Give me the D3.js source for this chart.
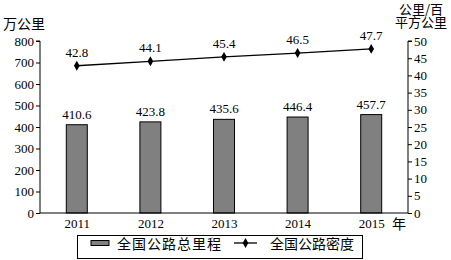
<!DOCTYPE html>
<html>
<head>
<meta charset="utf-8">
<script src="https://cdn.jsdelivr.net/npm/d3@7"></script>
<style>
  html, body { margin: 0; padding: 0; background: #fff; }
  svg { display: block; }
</style>
</head>
<body>
<svg id="chart" width="451" height="260"></svg>
<script>
// Years along the x axis
const years = ["2011", "2012", "2013", "2014", "2015"];
// Total highway length (10k km)
const totalLength = [410.6, 423.8, 435.6, 446.4, 457.7];
// Highway density (km per 100 km²)
const density = [42.8, 44.1, 45.4, 46.5, 47.7];
// Axis ticks
const leftTicks = [0, 100, 200, 300, 400, 500, 600, 700, 800];
const rightTicks = [0, 5, 10, 15, 20, 25, 30, 35, 40, 45, 50];

const NUM_FONT = '"Liberation Serif", "DejaVu Serif", serif';
const CJK_FONT = '"Noto Sans CJK SC", sans-serif';

const svg = d3.select("#chart");
const plotLeft = 40, plotRight = 408, plotTop = 41, plotBottom = 213;

const xc = d3.scalePoint().domain(years).range([plotLeft, plotRight]).padding(0.5);
const yL = d3.scaleLinear().domain([0, 800]).range([plotBottom, plotTop]);
const yR = d3.scaleLinear().domain([0, 50]).range([plotBottom, plotTop]);

function numText(sel) {
  sel.style("font-family", NUM_FONT).style("font-size", "13px").attr("fill", "#000");
}

// Bars
svg.append("g").selectAll("rect").data(years).join("rect")
  .attr("x", (d) => xc(d) - 10.5)
  .attr("y", (d, i) => yL(totalLength[i]))
  .attr("width", 21)
  .attr("height", (d, i) => plotBottom - yL(totalLength[i]))
  .attr("fill", "#808080")
  .attr("stroke", "#000")
  .attr("stroke-width", 1);

// Bar value labels
svg.append("g").selectAll("text").data(years).join("text")
  .call(numText)
  .attr("x", (d) => xc(d))
  .attr("y", (d, i) => yL(totalLength[i]) - 6)
  .attr("text-anchor", "middle")
  .text((d, i) => totalLength[i].toFixed(1));

// Left axis
const gL = svg.append("g").attr("transform", `translate(${plotLeft},0)`)
  .call(d3.axisLeft(yL).tickValues(leftTicks).tickSize(4).tickPadding(2));
gL.selectAll("text").call(numText);
gL.select(".domain").attr("d", `M-4,${plotTop}H0V${plotBottom}`);

// Right axis
const gR = svg.append("g").attr("transform", `translate(${plotRight},0)`)
  .call(d3.axisRight(yR).tickValues(rightTicks).tickSize(4).tickPadding(2));
gR.selectAll("text").call(numText);
gR.select(".domain").attr("d", `M4,${plotTop}H0V${plotBottom}`);

// Bottom axis
const gB = svg.append("g").attr("transform", `translate(0,${plotBottom})`)
  .call(d3.axisBottom(xc).tickSize(0).tickPadding(6));
gB.selectAll("text").call(numText);
gB.select(".domain").attr("d", `M${plotLeft},0H${plotRight}`);

// Density line
const line = d3.line().x((d, i) => xc(years[i])).y((d) => yR(d));
svg.append("path").datum(density)
  .attr("d", line).attr("fill", "none").attr("stroke", "#000").attr("stroke-width", 1.3);

const diamond = d3.symbol().type(d3.symbolDiamond).size(28);
svg.append("g").selectAll("path").data(density).join("path")
  .attr("transform", (d, i) => `translate(${xc(years[i])},${yR(d)})`)
  .attr("d", diamond).attr("fill", "#000");

svg.append("g").selectAll("text").data(density).join("text")
  .call(numText)
  .attr("x", (d, i) => xc(years[i]))
  .attr("y", (d) => yR(d) - 9)
  .attr("text-anchor", "middle")
  .text((d) => d.toFixed(1));

// Axis titles
function cjkText(x, y, size, str) {
  return svg.append("text").attr("x", x).attr("y", y)
    .style("font-family", CJK_FONT).style("font-size", size + "px").attr("fill", "#000").text(str);
}
cjkText(3, 29, 14, "万公里");
cjkText(392, 229, 14, "年");

// Right axis title, two lines
const rt = svg.append("text")
  .style("font-family", CJK_FONT).style("font-size", "13px").attr("fill", "#000");
rt.append("tspan").attr("x", 399).attr("y", 14).text("公里/百");
rt.append("tspan").attr("x", 395).attr("y", 27).text("平方公里");

// Legend
const lg = svg.append("g");
lg.append("rect").attr("x", 77.5).attr("y", 235.5).attr("width", 285).attr("height", 23)
  .attr("fill", "none").attr("stroke", "#000");
lg.append("rect").attr("x", 91).attr("y", 240.5).attr("width", 18).attr("height", 5)
  .attr("fill", "#808080").attr("stroke", "#000");
lg.append("text").attr("x", 117).attr("y", 248.5)
  .style("font-family", CJK_FONT).style("font-size", "14px").style("letter-spacing", "1px")
  .attr("fill", "#000").text("全国公路总里程");
lg.append("line").attr("x1", 234).attr("x2", 257).attr("y1", 243).attr("y2", 243)
  .attr("stroke", "#000").attr("stroke-width", 1.3);
lg.append("path").attr("transform", "translate(245.5,243)").attr("d", diamond).attr("fill", "#000");
lg.append("text").attr("x", 270).attr("y", 248.5)
  .style("font-family", CJK_FONT).style("font-size", "14px")
  .attr("fill", "#000").text("全国公路密度");
</script>
</body>
</html>
